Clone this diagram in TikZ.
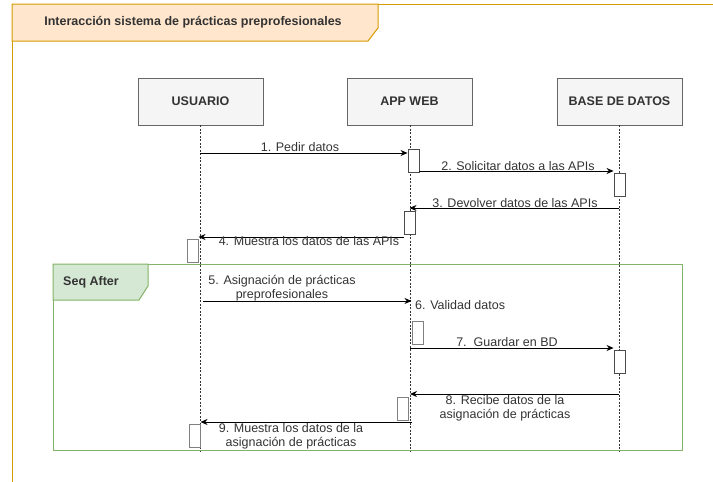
\documentclass[tikz,border=0pt]{standalone}
\usepackage{fontspec}
\setmainfont{Liberation Sans}
\usetikzlibrary{arrows.meta}
\definecolor{orframe}{HTML}{D79B00}
\definecolor{orfill}{HTML}{FFE6CC}
\definecolor{grframe}{HTML}{82B366}
\definecolor{grfill}{HTML}{D5E8D4}
\definecolor{partfill}{HTML}{F5F5F5}
\definecolor{partdraw}{HTML}{666666}
\definecolor{txt}{HTML}{333333}
\begin{document}
\begin{tikzpicture}[x=1pt,y=-1pt,
  every node/.style={font=\fontsize{12.5}{14}\selectfont, text=txt},
  part/.style={draw=partdraw, fill=partfill, minimum width=125pt, minimum height=47pt, inner sep=0pt, font=\fontsize{12.5}{14}\selectfont\bfseries},
  life/.style={draw=black!80, dash pattern=on 2pt off 1.5pt, line width=0.7pt},
  act/.style={draw=black!70, fill=white, minimum width=11pt, minimum height=23pt, inner sep=0pt, line width=0.9pt},
  actg/.style={draw=black!50, fill=white, minimum width=11pt, minimum height=23pt, inner sep=0pt, line width=1pt},
  msg/.style={draw=black, line width=0.8pt, -{Stealth[length=7pt,width=6pt]}},
  lbl/.style={inner sep=1pt, align=center},
]
\useasboundingbox (0,0) rectangle (713,482);
% outer frame
\draw[orframe, line width=1pt] (378,4) -- (713,4);
\draw[orframe, line width=1pt] (12,41) -- (12,482);
\filldraw[draw=orframe, fill=orfill, line width=1pt] (12,4) -- (378,4) -- (378,28) -- (368,41) -- (12,41) -- cycle;
\node[font=\fontsize{12.5}{14}\selectfont\bfseries] (title) at (193,22) {Interacción sistema de prácticas preprofesionales};

% participants
\node[part] (usr) at (200.5,101.5) {USUARIO};
\node[part] (app) at (409.5,101.5) {APP WEB};
\node[part] (bd) at (619.5,101.5) {BASE DE DATOS};
\coordinate (usrEnd) at (200,451);
\coordinate (appEnd) at (410,451);
\coordinate (bdEnd) at (619,451);
\draw[life] (usr.south -| usrEnd) -- (usrEnd);
\draw[life] (app.south -| appEnd) -- (appEnd);
\draw[life] (bd.south -| bdEnd) -- (bdEnd);

% seq after frame
\draw[grframe, line width=1pt] (53,264) rectangle (682,450);
\filldraw[draw=grframe, fill=grfill, line width=1pt] (53,264) -- (148,264) -- (148,286) -- (139,300) -- (53,300) -- cycle;
\node[font=\fontsize{12.5}{14}\selectfont\bfseries] (seqlbl) at (91,282) {Seq After};

% activations
\node[act] (a1) at (413.5,161) {};
\node[act] (b1) at (619.5,184.5) {};
\node[act] (a2) at (409.5,222.5) {};
\node[actg] (u1) at (192.5,250.5) {};
\node[actg] (a3) at (417.5,333) {};
\node[act] (b2) at (619.5,362) {};
\node[actg] (a4) at (402.5,408.5) {};
\node[actg] (u2) at (194.5,436) {};

% message coordinates
\coordinate (m1) at (200,153);
\coordinate (m2) at (419,171);
\coordinate (m3) at (619,208);
\coordinate (m4) at (404,237);
\coordinate (m5) at (203,301);
\coordinate (m7) at (410,348);
\coordinate (m8) at (619,394);
\coordinate (m9) at (412,422);

\draw[msg] (m1) -- (m1 -| a1.west);
\draw[msg] (m2) -- (m2 -| b1.west);
\draw[msg] (m3) -- (m3 -| a2.center);
\draw[msg] (m4) -- (m4 -| u1.east);
\draw[msg] (m5) -- (m5 -| a3.west);
\draw[msg] (m7) -- (m7 -| b2.west);
\draw[msg] (m8) -- (m8 -| appEnd);
\draw[msg] (m9) -- (m9 -| u2.east);

% labels
\node[lbl] (l1) at (300,147) {1. Pedir datos};
\node[lbl] (l2) at (518,166) {2. Solicitar datos a las APIs};
\node[lbl] (l3) at (515,203) {3. Devolver datos de las APIs};
\node[lbl] (l4) at (309,241) {4. Muestra los datos de las APIs};
\node[lbl] (l5) at (282,288) {5. Asignación de prácticas\\preprofesionales};
\node[lbl, anchor=west] (l6) at (414,305) {6. Validad datos};
\node[lbl] (l7) at (507,342) {7.\ \ Guardar en BD};
\node[lbl] (l8) at (505,408.5) {8. Recibe datos de la\\asignación de prácticas};
\node[lbl] (l9) at (291,436.5) {9. Muestra los datos de la\\asignación de prácticas};
\end{tikzpicture}
\end{document}
